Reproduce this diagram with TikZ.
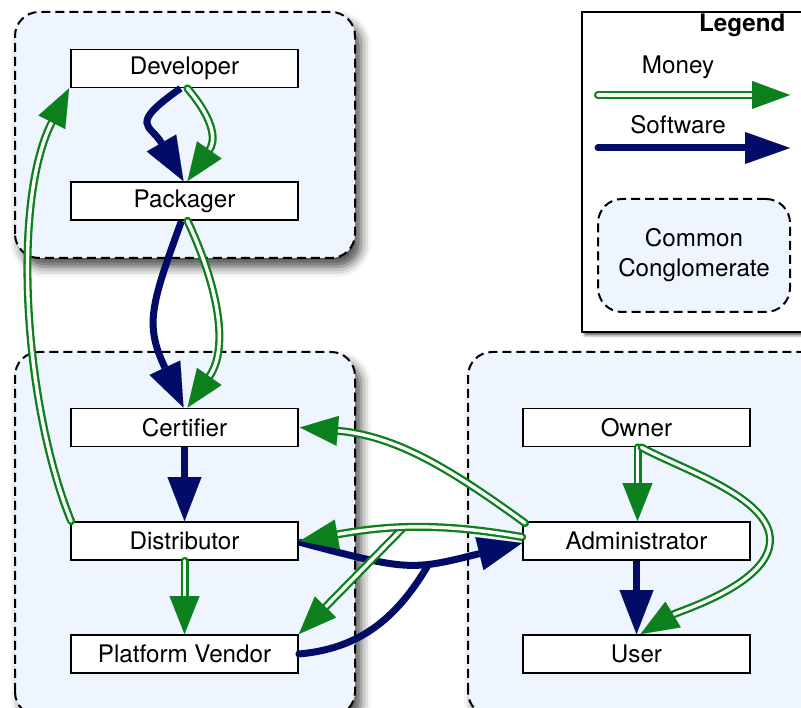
\documentclass[tikz,border=0pt]{standalone}
\usepackage{fontspec}
\setmainfont{TeX Gyre Heros}
\usetikzlibrary{arrows.meta,shadows.blur,positioning}
\definecolor{moneygreen}{RGB}{12,128,28}
\definecolor{softnavy}{RGB}{0,12,102}
\definecolor{groupfill}{RGB}{238,245,255}

\begin{document}
\begin{tikzpicture}[x=1pt,y=1pt,font=\fontsize{24.2}{30}\selectfont,
role/.style={draw,line width=1.8pt,fill=white,minimum width=227pt,minimum height=38pt,inner sep=0pt},
groupbox/.style={draw,dash pattern=on 9pt off 5pt,line width=2pt,rounded corners=24pt,fill=groupfill},
group/.style={groupbox,blur shadow={shadow xshift=6pt,shadow yshift=-9pt,shadow blur radius=10pt,shadow opacity=70}},
money/.style={draw=moneygreen,line width=2.3pt,double=white,double distance=3.4pt,line cap=round,
  -{Triangle[length=38pt,width=30pt,line width=0.1pt]}},
soft/.style={draw=softnavy,line width=7pt,-{Triangle[length=44pt,width=34pt,line width=0.1pt]}}]
\useasboundingbox (0,0) rectangle (801,708);
\clip (0,0) rectangle (801,708);
% conglomerates
\path[group] (15,450) rectangle (355,696);
\path[group] (15,-8) rectangle (355,356);
\path[group] (468,-8) rectangle (840,356);
% legend
\path[draw,line width=2pt,fill=white,blur shadow={shadow xshift=3pt,shadow yshift=-3pt,shadow blur radius=3pt,shadow opacity=70}]
  (582,376) rectangle (840,696);
\node[anchor=east,font=\fontsize{24.2}{30}\selectfont\bfseries] (legend) at (789,683) {Legend};
\node (moneytxt) at (678,641) {Money};
\node (softtxt) at (678,583) {Software};
\node[groupbox,minimum width=192pt,minimum height=113pt,align=center] (cc) at (694,452.5) {Common\\Conglomerate};
\coordinate (moneyfrom) at (598,613);
\coordinate (moneyto) at (790,613);
\coordinate (softfrom) at (598,560);
\coordinate (softto) at (790,560);
\draw[money,-{Triangle[length=38pt,width=28pt,line width=0.1pt]}] (moneyfrom) -- (moneyto);
\draw[soft,line cap=round,-{Triangle[length=45pt,width=32pt,line width=0.1pt]}] (softfrom) -- (softto);
% roles
\node[role] (dev) at (184.5,639.5) {Developer};
\node[role] (pack) at (184.5,507) {Packager};
\node[role] (cert) at (184.5,280.5) {Certifier};
\node[role] (dist) at (184.5,167) {Distributor};
\node[role] (vendor) at (184.5,54) {Platform Vendor};
\node[role] (owner) at (636.5,280.5) {Owner};
\node[role] (admin) at (636.5,167) {Administrator};
\node[role] (user) at (636.5,54) {User};
\coordinate (split) at (403,180);
\coordinate (merge) at (427,141);
\coordinate (ownerturn) at (770,168);
% software
\draw[soft] ([xshift=-4pt]dev.south) to[out=-145,in=120,looseness=1.8] ([xshift=-1pt]pack.north);
\draw[soft] ([xshift=-3pt]pack.south) to[out=-110,in=115,looseness=1.25] ([xshift=-1pt]cert.north);
\draw[soft] (cert) -- (dist);
\draw[soft] ([yshift=-1pt]dist.east) to[out=-15,in=-166,looseness=1.3] ([yshift=-2pt]admin.west);
\draw[soft,-,line cap=round] (vendor.east) to[out=5,in=-121] (merge);
\draw[soft] (admin) -- (user);
% money
\draw[money] ([xshift=3pt]dev.south) to[out=-50,in=55,looseness=1.3] ([xshift=3pt]pack.north);
\draw[money] ([xshift=3pt]pack.south) to[out=-65,in=55] ([xshift=3pt]cert.north);
\draw[money] (dist) -- (vendor);
\draw[money] ([xshift=1pt]dist.north west) to[out=112,in=-117,looseness=0.75] ([xshift=-1pt]dev.south west);
\draw[money] ([xshift=3pt,yshift=-2pt]admin.north west) to[out=144,in=-5] ([xshift=1pt]cert.east);
\draw[money] (split) -- (vendor.north east);
\draw[money] ([yshift=4pt]admin.west) to[out=170,in=10] ([xshift=1pt]dist.east);
\draw[money] ([xshift=1pt]owner.south) -- ([xshift=1pt]admin.north);
\draw[money] ([xshift=5pt]owner.south) to[out=-29,in=90,looseness=0.7] (ownerturn) to[out=-90,in=31,looseness=0.7] ([xshift=4pt]user.north);
\end{tikzpicture}
\end{document}
